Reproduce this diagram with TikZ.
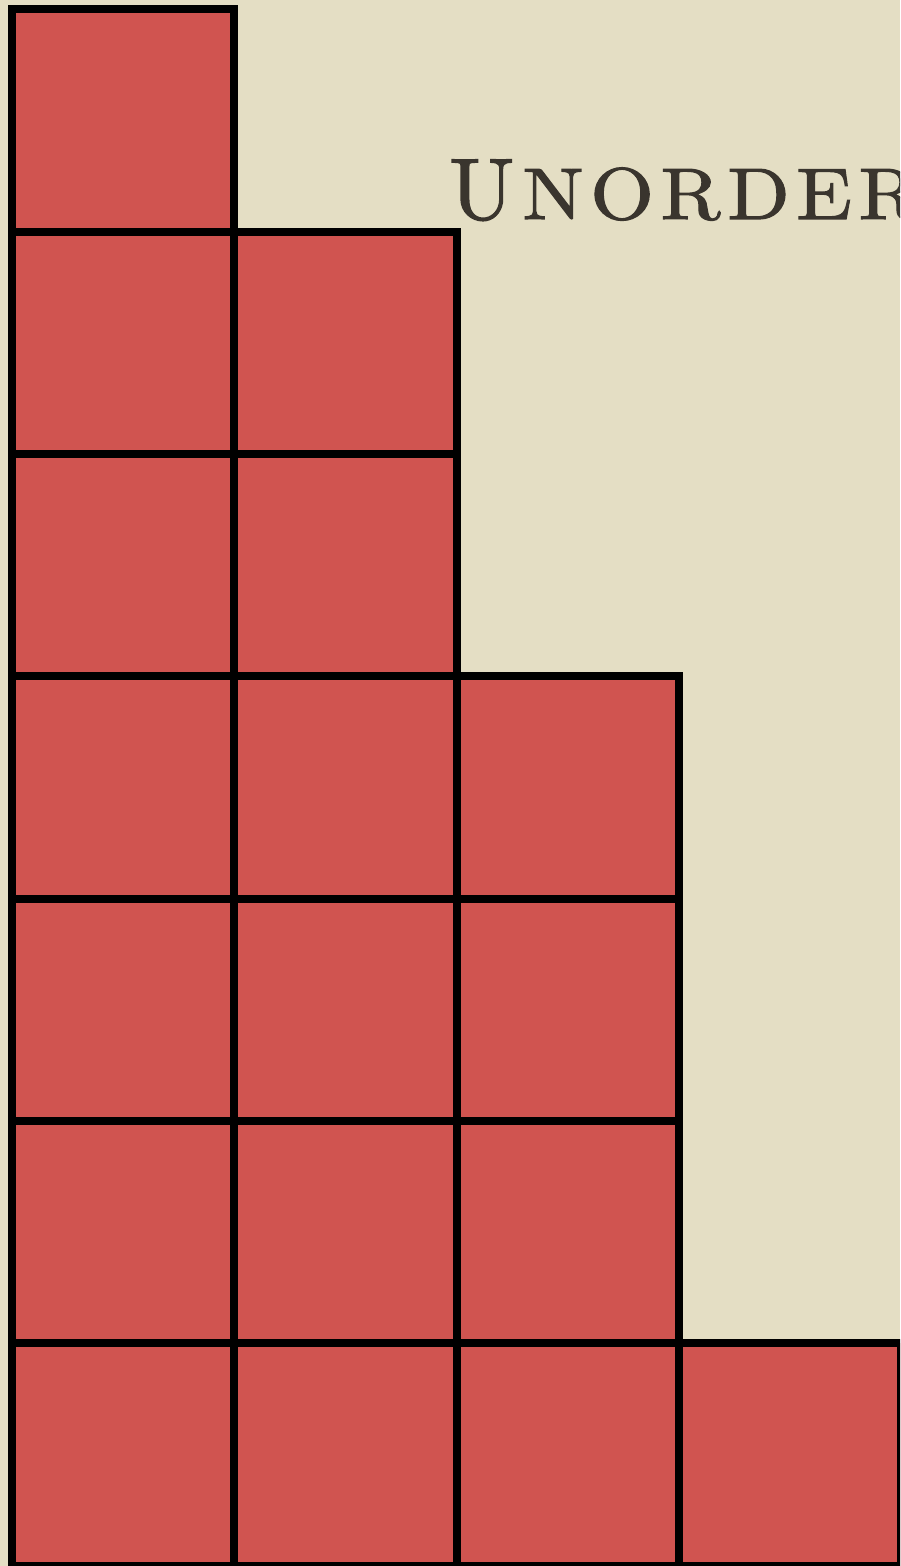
\documentclass[tikz,border=0pt]{standalone}
\usepackage{fontspec}
\newfontfamily\headfont[LetterSpace=9,FakeBold=1.6,FakeStretch=1.12]{lmroman10-regular.otf}
\newfontfamily\initialfont[FakeBold=1.6]{lmroman10-regular.otf}
\definecolor{parchment}{RGB}{228,222,196}
\definecolor{brick}{RGB}{208,84,80}
\definecolor{inkbrown}{RGB}{58,53,46}
\newcommand{\initialcap}[1]{{\initialfont\fontsize{87}{87}\selectfont #1}\hspace{8pt}}
\begin{document}
\begin{tikzpicture}[x=1pt,y=1pt]
    \tikzset{
        cell/.style={draw=black, fill=brick, line width=8pt, rectangle,
            minimum size=222.3pt, inner sep=0pt, outer sep=0pt},
        title/.style={text=inkbrown, font=\headfont\fontsize{73}{73}\selectfont, inner sep=0pt, anchor=base west}
    }
    \useasboundingbox (0,0) rectangle (900,1566);
    \clip (0,0) rectangle (900,1566);
    \fill[parchment] (0,0) rectangle (900,1566);

    \node[title] (heading) at (449,1347) {\initialcap{U}NORDERED};

    \foreach \c/\h in {%
        1/7,2/6,3/4,4/1%
    }{
        \foreach \r in {1,...,\h}{
            \node[cell] (c\c r\r) at ({12+222.3*(\c-0.5)},{0.4+222.3*(\r-0.5)}) {};
        }
    }
\end{tikzpicture}
\end{document}
